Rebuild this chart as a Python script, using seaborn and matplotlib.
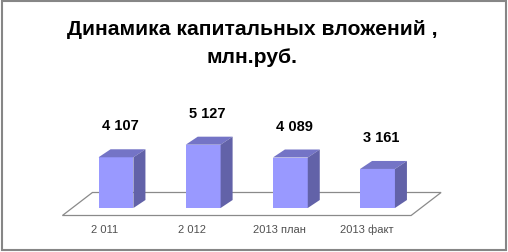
import matplotlib
matplotlib.use('Agg')
import matplotlib.pyplot as plt
import seaborn as sns
import pandas as pd
from matplotlib.patches import Polygon, Rectangle
from matplotlib.transforms import IdentityTransform, ScaledTranslation

categories = ['2 011', '2 012', '2013 план', '2013 факт']
values = [4107, 5127, 4089, 3161]
value_labels = ['4 107', '5 127', '4 089', '3 161']
title = 'Динамика капитальных вложений ,\nмлн.руб.'

sns.set_theme(style='white')
plt.rcParams['font.family'] = ['Liberation Sans', 'DejaVu Sans']

W, H = 508, 252
fig = plt.figure(figsize=(W / 100, H / 100), dpi=100)
ax = fig.add_axes([63.7 / W, 44 / H, 366.1 / W, 98.8 / H])
df = pd.DataFrame({'cat': categories, 'val': values})
sns.barplot(data=df, x='cat', y='val', color='#9999FF', saturation=1,
            width=0.4, ax=ax, zorder=3, linewidth=0)
ax.set_xlim(-0.6, 3.6)
ax.set_ylim(0, 8000)
for s in ax.spines.values():
    s.set_visible(False)
ax.set_yticks([])
ax.set_xlabel('')
ax.set_ylabel('')

ident = IdentityTransform()
DX, DY = 12, 8

bars = list(ax.patches)

# floor
(fx0, fy0), (fx1, _) = ax.transData.transform([(-0.5, 0), (3.5, 0)])
floor = Polygon([(fx0 - 10, fy0 - 7.5), (fx1 - 10, fy0 - 7.5),
                 (fx1 + 20, fy0 + 15.5), (fx0 + 20, fy0 + 15.5)],
                closed=True, facecolor='white', edgecolor='#8a8a8a',
                lw=0.9, transform=ident, clip_on=False, zorder=1)
ax.add_patch(floor)

for p, lab in zip(bars, value_labels):
    x0, y0 = p.get_x(), p.get_y()
    w, h = p.get_width(), p.get_height()
    (a0, b0), (a1, b1) = ax.transData.transform([(x0, y0), (x0 + w, y0 + h)])
    top = Polygon([(a0, b1), (a1, b1), (a1 + DX, b1 + DY), (a0 + DX, b1 + DY)],
                  closed=True, facecolor='#7474C6', edgecolor='none',
                  transform=ident, clip_on=False, zorder=3)
    side = Polygon([(a1, b0), (a1, b1), (a1 + DX, b1 + DY), (a1 + DX, b0 + DY)],
                   closed=True, facecolor='#6262A8', edgecolor='none',
                   transform=ident, clip_on=False, zorder=3)
    ax.add_patch(top)
    ax.add_patch(side)
    ax.annotate(lab, xy=(x0 + w / 2, y0 + h), xytext=(4, 31),
                textcoords='offset pixels', ha='center', va='center',
                fontsize=10.5, fontweight='bold', color='black',
                annotation_clip=False)

ax.tick_params(axis='x', length=0, pad=12, labelsize=8, labelcolor='#505050')
for t in ax.get_xticklabels():
    t.set_transform(t.get_transform() + ScaledTranslation(-11 / 100, 0, fig.dpi_scale_trans))

fig.text(252 / W, 1 - 43.5 / H, title, ha='center', va='center',
         fontsize=15.2, fontweight='bold', color='black', linespacing=1.6)

fig.add_artist(Rectangle((1.5, 2), 504.5, 249, fill=False, edgecolor='#868686',
                         lw=1.5, transform=ident))

fig.savefig('out.png', dpi=100)
